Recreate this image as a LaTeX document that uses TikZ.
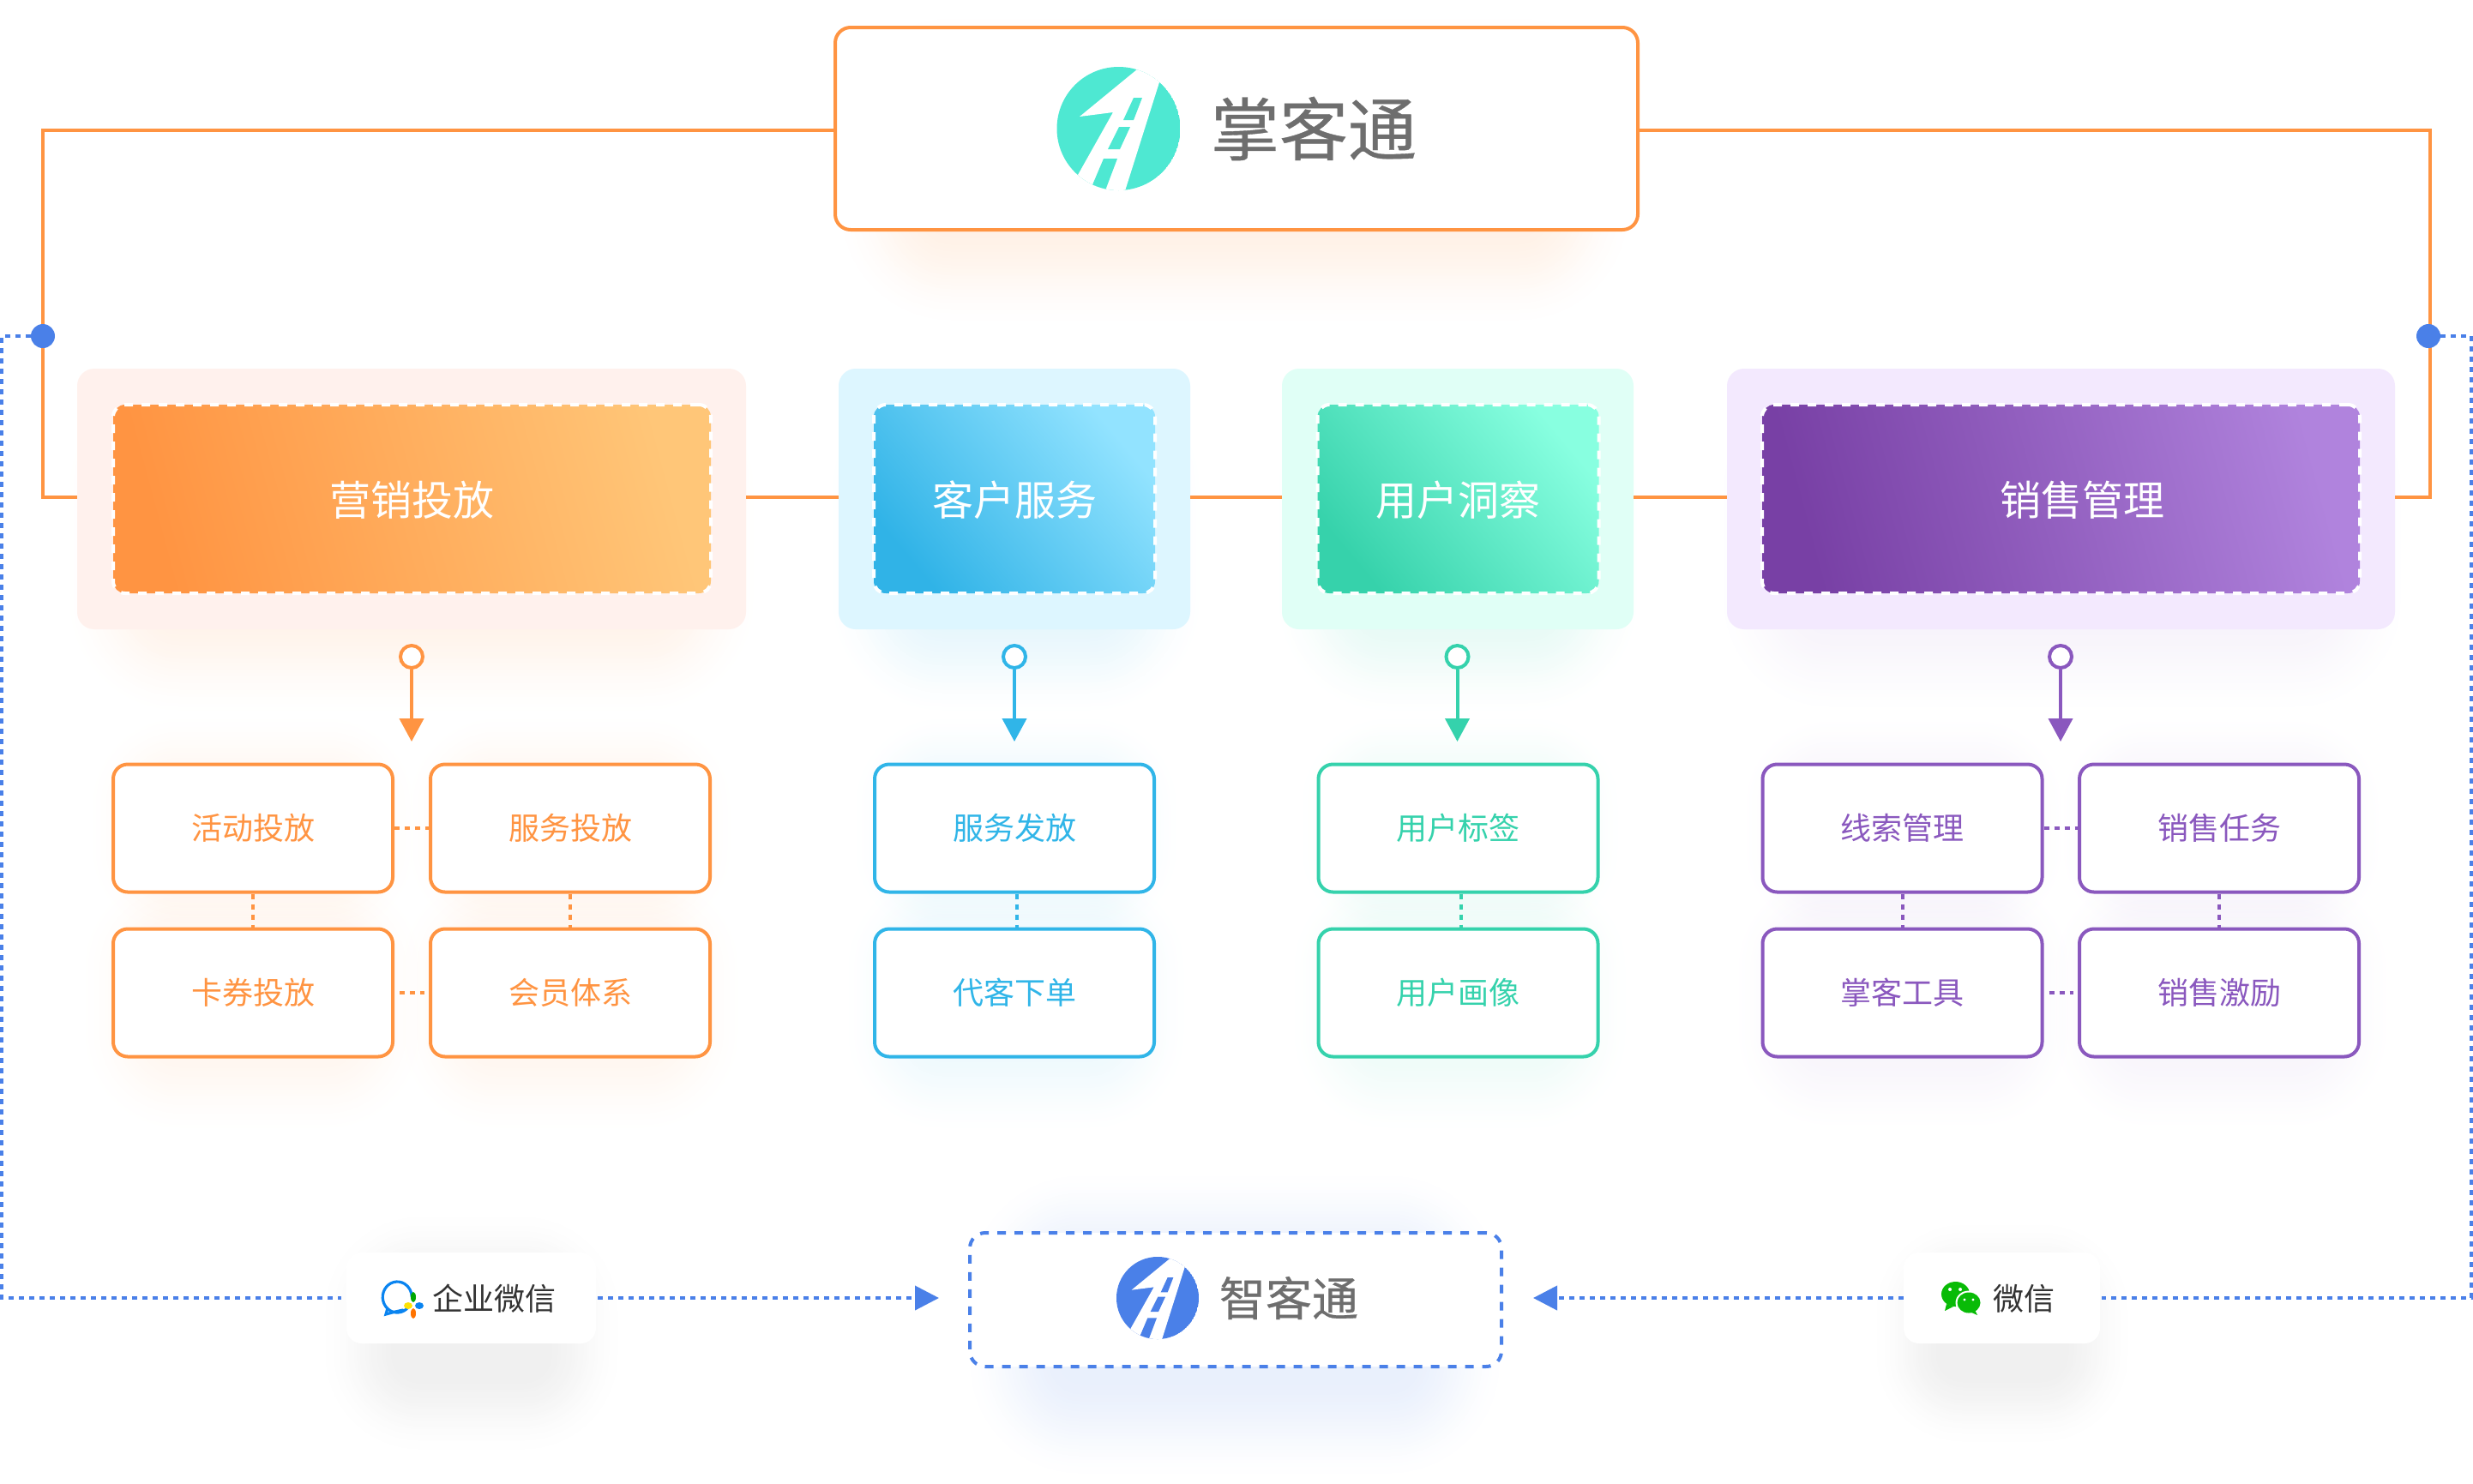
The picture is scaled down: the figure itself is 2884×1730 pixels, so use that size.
\documentclass[tikz,border=0pt]{standalone}
\usepackage{fontspec}
\setmainfont{Noto Sans CJK SC}
\newfontfamily\logofont[FakeBold=0.5]{Noto Sans CJK SC}
\usetikzlibrary{arrows.meta,calc}
\definecolor{cOr}{HTML}{FF9442}
\definecolor{cBl}{HTML}{30B5E8}
\definecolor{cGr}{HTML}{35D2AC}
\definecolor{cPu}{HTML}{8A58BE}
\definecolor{cBlue}{HTML}{4A80E8}
\definecolor{cTeal}{HTML}{4EE8D2}
\definecolor{cGrey}{HTML}{6E6E6E}
\definecolor{cTxt}{HTML}{333333}
\definecolor{cWe}{HTML}{09BB07}
\definecolor{cCom}{HTML}{0A84F0}
\definecolor{pOr}{HTML}{FFF1ED}
\definecolor{pBl}{HTML}{DDF6FF}
\definecolor{pGr}{HTML}{E0FFF6}
\definecolor{pPu}{HTML}{F3E9FE}
\definecolor{gOrA}{HTML}{FF9442}\definecolor{gOrB}{HTML}{FFC678}
\definecolor{gBlA}{HTML}{30B3E7}\definecolor{gBlB}{HTML}{92E3FF}
\definecolor{gGrA}{HTML}{36D2AB}\definecolor{gGrB}{HTML}{88FFE0}
\definecolor{gPuA}{HTML}{7840A5}\definecolor{gPuB}{HTML}{B083DD}
\tikzset{
  panelbox/.style={fill=#1,rounded corners=10pt,inner sep=0pt,minimum height=152pt},
  gradfill/.style={rounded corners=7pt,inner sep=0pt,outer sep=0pt,minimum height=110pt},
  gradedge/.style={draw=white,line width=2pt,dash pattern=on 5pt off 5pt,rounded corners=7pt,inner sep=0pt,minimum height=110pt},
  subbox/.style={draw=#1,text=#1,fill=white,line width=2pt,rounded corners=8.5pt,inner sep=0pt,minimum width=163pt,minimum height=74.5pt,font=\fontsize{18}{18}\selectfont},
  titletext/.style={text=white,font=\fontsize{24}{24}\selectfont,inner sep=0pt},
  cardbox/.style={fill=white,rounded corners=9pt,inner sep=0pt,minimum height=53pt},
  cardtext/.style={text=cTxt,inner sep=0pt,font=\fontsize{18}{18}\selectfont},
  logotext/.style={text=cGrey,inner sep=0pt},
  mainline/.style={draw=cOr,line width=2pt},
  dotline/.style={draw=#1,line width=2pt,dash pattern=on 3pt off 3pt},
  ringdot/.style={circle,draw=#1,fill=white,line width=2pt,inner sep=0pt,minimum size=13pt},
  bluedot/.style={circle,fill=cBlue,inner sep=0pt,minimum size=14pt},
  downarrow/.style={draw=#1,line width=2pt,-{Triangle[length=13.5pt,width=14pt,fill=#1]}},
  sidearrow/.style={dotline=cBlue,-{Triangle[length=14pt,width=14pt,fill=cBlue]}},
}
% x1 y1 x2 y2 colour peak% spread
\newcommand\softglow[7]{%
  \begin{scope}[transparency group,blend mode=multiply]
  \foreach \k in {0,...,29}{%
    \pgfmathsetmacro\tt{(\k+1)/30}%
    \pgfmathsetmacro\ss{\tt*\tt*(3-2*\tt)}%
    \pgfmathsetmacro\pp{#6*\ss}%
    \pgfmathsetmacro\ee{#7*(1-\tt)}%
    \pgfmathsetlengthmacro\rr{(\ee+20)*0.5pt}%
    \colorlet{glowc}{#5!\pp!white}%
    \fill[glowc,rounded corners=\rr] (#1-\ee,#2-\ee) rectangle (#3+\ee,#4+\ee);
  }%
  \end{scope}%
}
\newcommand\logomark[4]{%
  \begin{scope}[shift={(#1,#2)},scale=#3]
    \begin{scope}
      \clip (0,0) circle (72);
      \fill[#4] (0,0) circle (72);
      \fill[white] (21.5,-69) -- (-45.5,-14) -- (-6.5,-19) -- (-47.5,54) -- (-54,90) -- (2,90) -- (47.5,-54) -- (59,-90) -- (45,-89) -- cycle;
      \fill[#4] (17.5,-36) -- (27.5,-36) -- (17.5,-10) -- (5.5,-10) -- cycle;
      \fill[#4] (0.5,-2) -- (13.5,-2) -- (1.5,24) -- (-12.5,24) -- cycle;
      \fill[#4] (-17.5,35) -- (-1.5,35) -- (-15.5,72) -- (-31.5,68) -- cycle;
    \end{scope}
  \end{scope}%
}
\begin{document}
\begin{tikzpicture}[x=0.5pt,y=-0.5pt]
\useasboundingbox (0,0) rectangle (2884,1730);
\fill[white] (0,0) rectangle (2884,1730);
% glows
\softglow{1090}{130}{1790}{265}{cOr}{13}{120}
\softglow{190}{550}{770}{720}{cOr}{11}{120}
\softglow{1080}{550}{1290}{720}{cBl}{12}{120}
\softglow{1600}{550}{1800}{720}{cGr}{12}{120}
\softglow{2115}{550}{2695}{720}{cPu}{7}{120}
\foreach \xa/\xb/\cc/\pa in {190/400/cOr/8,560/770/cOr/8,1080/1290/cBl/8,1600/1805/cGr/8,2115/2325/cPu/6,2485/2695/cPu/6}{
  \softglow{\xa}{920}{\xb}{1010}{\cc}{\pa}{90}
  \softglow{\xa}{1110}{\xb}{1225}{\cc}{\pa}{100}
}
\softglow{1240}{1480}{1640}{1610}{cBlue}{12}{120}
\softglow{470}{1510}{630}{1600}{black}{6}{100}
\softglow{2270}{1510}{2400}{1600}{black}{6}{90}

% top box
\node[draw=cOr,fill=white,line width=2pt,rounded corners=9pt,inner sep=0pt,minimum width=468pt,minimum height=118pt] (top) at (1442,150) {};
\logomark{1304.5}{150}{1}{cTeal}
\node[logotext,font=\logofont\fontsize{40}{40}\selectfont] (toptext) at (1532,150) {掌客通};

% panels
\node[panelbox=pOr,minimum width=390pt] (p1) at (480,582) {};
\node[panelbox=pBl,minimum width=205pt] (p2) at (1183,582) {};
\node[panelbox=pGr,minimum width=205pt] (p3) at (1700,582) {};
\node[panelbox=pPu,minimum width=389.5pt] (p4) at (2403.5,582) {};

% main lines
\coordinate (cTL) at (50,152);
\coordinate (cBL) at (50,580);
\coordinate (cTR) at (2834,152);
\coordinate (cBR) at (2834,580);
\draw[mainline] ([yshift=-1pt]top.west) -- (cTL) -- (cBL) -- ([yshift=1pt]p1.west);
\draw[mainline] ([yshift=-1pt]top.east) -- (cTR) -- (cBR) -- ([yshift=1pt]p4.east);
\draw[mainline] ([yshift=1pt]p1.east) -- ([yshift=1pt]p2.west);
\draw[mainline] ([yshift=1pt]p2.east) -- ([yshift=1pt]p3.west);
\draw[mainline] ([yshift=1pt]p3.east) -- ([yshift=1pt]p4.west);

% gradient boxes
\node[gradfill,minimum width=348.5pt,left color=gOrA,right color=gOrB,shading angle=105] (g1) at (480.5,582) {};
\node[gradfill,minimum width=164pt,left color=gBlA,right color=gBlB,shading angle=130] (g2) at (1183,582) {};
\node[gradfill,minimum width=164pt,left color=gGrA,right color=gGrB,shading angle=130] (g3) at (1700.5,582) {};
\node[gradfill,minimum width=348.5pt,left color=gPuA,right color=gPuB,shading angle=105] (g4) at (2403.5,582) {};
\node[gradedge,minimum width=348.5pt] (e1) at (g1) {};
\node[gradedge,minimum width=164pt] (e2) at (g2) {};
\node[gradedge,minimum width=164pt] (e3) at (g3) {};
\node[gradedge,minimum width=348.5pt] (e4) at (g4) {};
\node[titletext] (t1) at (480,583) {营销投放};
\node[titletext] (t2) at (1183,583) {客户服务};
\node[titletext] (t3) at (1700,583) {用户洞察};
\node[titletext] (t4) at (2428,583) {销售管理};

% ring dots and arrows
\foreach \nn/\xx/\cc in {1/480/cOr,2/1183/cBl,3/1699.5/cGr,4/2403/cPu}{
  \node[ringdot=\cc] (r\nn) at (\xx,766) {};
  \coordinate (tip\nn) at (\xx,865);
  \draw[downarrow=\cc] (r\nn.south) -- (tip\nn);
}

% sub boxes
\node[subbox=cOr] (a1) at (295,966) {活动投放};
\node[subbox=cOr] (a2) at (665,966) {服务投放};
\node[subbox=cOr] (a3) at (295,1158) {卡券投放};
\node[subbox=cOr] (a4) at (665,1158) {会员体系};
\node[subbox=cBl] (b1) at (1183,966) {服务发放};
\node[subbox=cBl] (b2) at (1183,1158) {代客下单};
\node[subbox=cGr] (c1) at (1700.5,966) {用户标签};
\node[subbox=cGr] (c2) at (1700.5,1158) {用户画像};
\node[subbox=cPu] (d1) at (2218.5,966) {线索管理};
\node[subbox=cPu] (d2) at (2588,966) {销售任务};
\node[subbox=cPu] (d3) at (2218.5,1158) {掌客工具};
\node[subbox=cPu] (d4) at (2588,1158) {销售激励};

\draw[dotline=cOr] (a1.east) -- (a2.west);
\draw[dotline=cOr,shorten <=3pt,shorten >=2.5pt] (a3.east) -- (a4.west);
\draw[dotline=cOr] (a1.south) -- (a3.north);
\draw[dotline=cOr] (a2.south) -- (a4.north);
\draw[dotline=cBl] ([xshift=1.5pt]b1.south) -- ([xshift=1.5pt]b2.north);
\draw[dotline=cGr] ([xshift=1.5pt]c1.south) -- ([xshift=1.5pt]c2.north);
\draw[dotline=cPu] (d1.east) -- (d2.west);
\draw[dotline=cPu,shorten <=3pt,shorten >=2.5pt] (d3.east) -- (d4.west);
\draw[dotline=cPu] (d1.south) -- (d3.north);
\draw[dotline=cPu] (d2.south) -- (d4.north);

% bottom row
\node[draw=cBlue,fill=white,line width=2pt,dash pattern=on 5pt off 5pt,rounded corners=9pt,inner sep=0pt,minimum width=310pt,minimum height=78pt] (smart) at (1441,1516) {};
\logomark{1350}{1514}{0.667}{cBlue}
\node[logotext,font=\logofont\fontsize{27}{27}\selectfont] (smarttext) at (1503,1514) {智客通};

\node[cardbox,minimum width=145.5pt] (wecom) at (549.5,1514) {};
\node[cardbox,minimum width=114.5pt] (wechat) at (2334.5,1514) {};
\node[cardtext] (wecomtext) at (576,1515) {企业微信};
\node[cardtext] (wechattext) at (2360,1515) {微信};

% WeCom icon
\begin{scope}[shift={(464,1512)}]
  \draw[draw=cCom,line width=1.6pt] (14,10) arc (30:360:17 and 18);
  \draw[draw=cCom,line width=1.6pt,line cap=round] (-12,14) -- (-14,21) -- (-3,18) -- (6,16);
  \fill[green!65!black] (18,1) ellipse (3 and 6);
  \fill[yellow!85!orange] (12,11) ellipse (5 and 4);
  \fill[orange!90!red] (18,20) ellipse (3 and 6);
  \fill[cCom] (25,11) ellipse (5 and 4);
\end{scope}
% WeChat icon
\fill[cWe] (2280.5,1509.5) ellipse (16.5 and 14.5);
\fill[cWe] (2270,1521) -- (2268,1529) -- (2278,1524) -- cycle;
\fill[white] (2296,1519.5) ellipse (15.5 and 14);
\fill[cWe] (2296,1519.5) ellipse (13.5 and 12);
\fill[cWe] (2303,1528) -- (2306,1534) -- (2297,1530) -- cycle;
\fill[white] (2274,1504) circle (2) (2286,1504) circle (2);
\fill[white] (2291,1516) circle (1.6) (2301,1516) circle (1.6);

% dotted routes and dots
\node[bluedot] (dotL) at (50,392) {};
\node[bluedot] (dotR) at (2832,392) {};
\coordinate (bL1) at (2,392);
\coordinate (bL2) at (2,1514);
\coordinate (bR1) at (2882,392);
\coordinate (bR2) at (2882,1514);
\draw[dotline=cBlue,shorten >=3pt] (dotL.west) -- (bL1) -- (bL2) -- (wecom.west);
\draw[dotline=cBlue,shorten >=1pt] (dotR.east) -- (bR1) -- (bR2) -- (wechat.east);
\draw[sidearrow,shorten <=1pt,shorten >=17pt] (wecom.east) -- (smart.west |- wecom.east);
\draw[sidearrow,shorten >=17.5pt] (wechat.west) -- (smart.east |- wechat.west);
\end{tikzpicture}
\end{document}
